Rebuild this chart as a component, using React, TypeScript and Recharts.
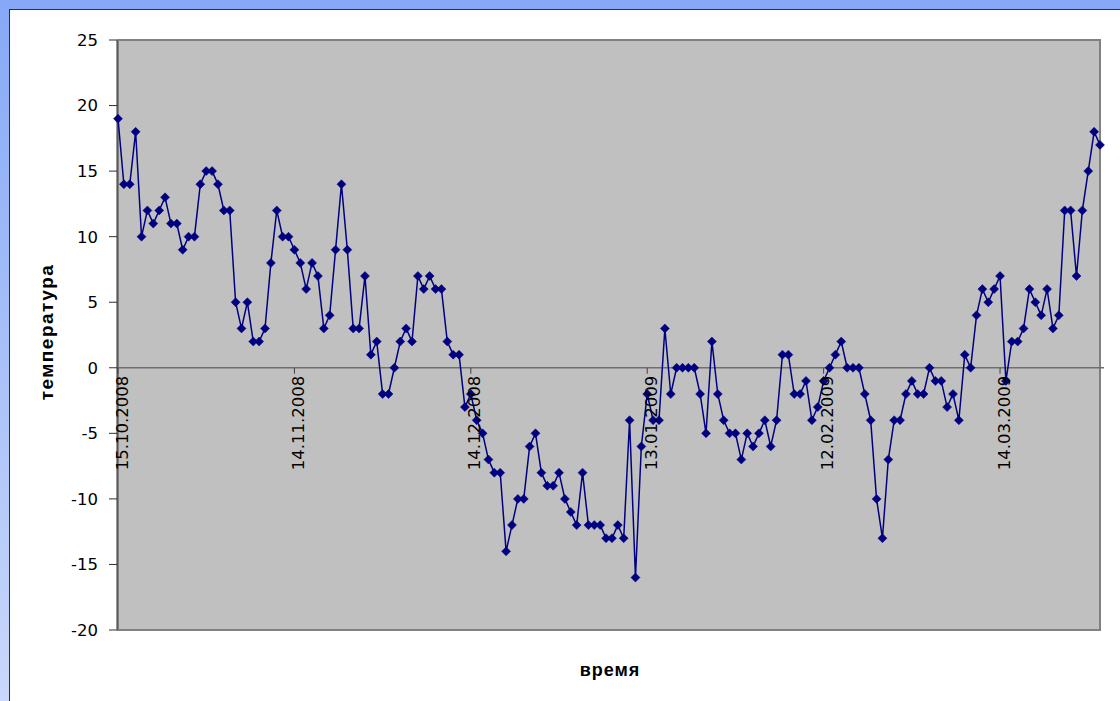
import { LineChart, Line, XAxis, YAxis, ReferenceLine, ReferenceArea } from "recharts";

const W = 1120;
const H = 701;
const PLOT_TOP = 40;
const PLOT_BOTTOM = 630;
const Y_MIN = -20;
const Y_MAX = 25;
const yTicks = [-20, -15, -10, -5, 0, 5, 10, 15, 20, 25];

// daily temperatures, 15.10.2008 .. 31.03.2009
const temperatures = [
  19, 14, 14, 18, 10, 12, 11, 12, 13, 11,
  11, 9, 10, 10, 14, 15, 15, 14, 12, 12,
  5, 3, 5, 2, 2, 3, 8, 12, 10, 10,
  9, 8, 6, 8, 7, 3, 4, 9, 14, 9,
  3, 3, 7, 1, 2, -2, -2, 0, 2, 3,
  2, 7, 6, 7, 6, 6, 2, 1, 1, -3,
  -2, -4, -5, -7, -8, -8, -14, -12, -10, -10,
  -6, -5, -8, -9, -9, -8, -10, -11, -12, -8,
  -12, -12, -12, -13, -13, -12, -13, -4, -16, -6,
  -2, -4, -4, 3, -2, 0, 0, 0, 0, -2,
  -5, 2, -2, -4, -5, -5, -7, -5, -6, -5,
  -4, -6, -4, 1, 1, -2, -2, -1, -4, -3,
  -1, 0, 1, 2, 0, 0, 0, -2, -4, -10,
  -13, -7, -4, -4, -2, -1, -2, -2, 0, -1,
  -1, -3, -2, -4, 1, 0, 4, 6, 5, 6,
  7, -1, 2, 2, 3, 6, 5, 4, 6, 3,
  4, 12, 12, 7, 12, 15, 18, 17,
];

const pad = (n: number) => (n < 10 ? "0" + n : String(n));
const dates = temperatures.map((_, i) => {
  const d = new Date(2008, 9, 15 + i);
  return `${pad(d.getDate())}.${pad(d.getMonth() + 1)}.${d.getFullYear()}`;
});

const data = temperatures.map((t, i) => ({ date: dates[i], t }));

const zeroY = PLOT_TOP + (Y_MAX / (Y_MAX - Y_MIN)) * (PLOT_BOTTOM - PLOT_TOP);

function DateTick(props: any) {
  const { x, payload } = props;
  return (
    <g>
      <line x1={x} x2={x} y1={zeroY} y2={zeroY + 6} stroke="#404040" strokeWidth={1} />
      <text
        transform={`translate(${x + 4},${zeroY + 8}) rotate(-90)`}
        textAnchor="end"
        dominantBaseline="central"
        fontFamily="DejaVu Sans"
        fontSize={16.5}
        fill="#000"
      >
        {payload.value}
      </text>
    </g>
  );
}

function Diamond(props: any) {
  const { cx, cy } = props;
  if (cx == null || cy == null) return null;
  const r = 4.5;
  return (
    <path
      d={`M${cx},${cy - r}L${cx + r},${cy}L${cx},${cy + r}L${cx - r},${cy}Z`}
      fill="#000080"
      stroke="#000080"
      strokeWidth={0.5}
    />
  );
}

export default function App() {
  return (
    <div
      style={{
        position: "absolute",
        left: 0,
        top: 0,
        width: W,
        height: H,
        background: "linear-gradient(#86a8f6, #c9d8fb)",
        overflow: "hidden",
      }}
    >
      <div
        style={{
          position: "absolute",
          left: 9,
          top: 9,
          width: W - 9,
          height: H - 9,
          background: "#fff",
          borderTop: "1px solid #303030",
          borderLeft: "1px solid #303030",
          boxSizing: "border-box",
        }}
      />
      <div style={{ position: "absolute", left: 0, top: 0 }}>
        <LineChart width={W} height={H} data={data} margin={{ top: PLOT_TOP, right: 16, bottom: 11, left: 0 }}>
          <ReferenceArea
            y1={Y_MIN}
            y2={Y_MAX}
            fill="#c0c0c0"
            fillOpacity={1}
            stroke="#808080"
            strokeWidth={2}
          />
          <XAxis
            dataKey="date"
            interval={29}
            height={60}
            padding={{ left: 1, right: 4 }}
            axisLine={false}
            tickLine={false}
            tick={<DateTick />}
            label={{
              content: () => (
                <text
                  x={610}
                  y={670}
                  textAnchor="middle"
                  dominantBaseline="central"
                  fontFamily="Liberation Sans"
                  fontWeight="bold"
                  fontSize={18}
                  letterSpacing={1}
                  fill="#000"
                >
                  время
                </text>
              ),
            }}
          />
          <YAxis
            domain={[Y_MIN, Y_MAX]}
            ticks={yTicks}
            width={117}
            tickSize={8}
            tickMargin={11}
            stroke="#303030"
            tick={{ fontFamily: "DejaVu Sans", fontSize: 16.5, fill: "#000" }}
            label={{
              content: () => (
                <text
                  transform="translate(46,332) rotate(-90)"
                  textAnchor="middle"
                  dominantBaseline="central"
                  fontFamily="Liberation Sans"
                  fontWeight="bold"
                  fontSize={19}
                  letterSpacing={1.5}
                  fill="#000"
                >
                  температура
                </text>
              ),
            }}
          />
          <ReferenceLine y={0} stroke="#6e6e6e" strokeWidth={1.5} />
          <Line
            type="linear"
            dataKey="t"
            stroke="#000080"
            strokeWidth={1.5}
            dot={<Diamond />}
            activeDot={false}
            isAnimationActive={false}
          />
        </LineChart>
      </div>
    </div>
  );
}
